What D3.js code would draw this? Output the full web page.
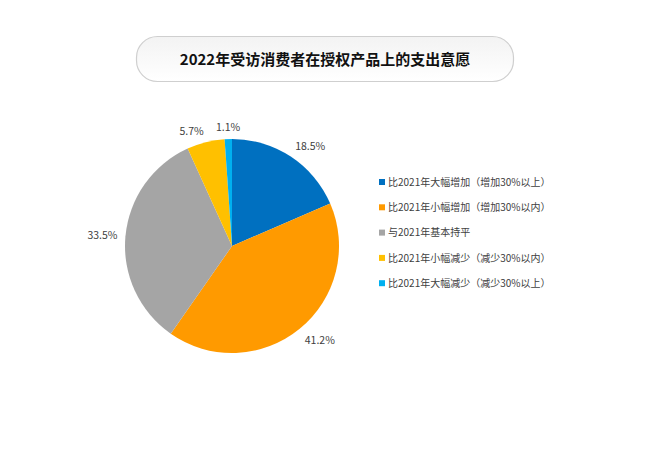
<!DOCTYPE html>
<html>
<head>
<meta charset="utf-8">
<script src="https://cdn.jsdelivr.net/npm/d3@7"></script>
<style>
    body { margin: 0; background: #fff; }
    svg { display: block; font-family: "Noto Sans CJK SC", "Noto Sans", sans-serif; }
</style>
</head>
<body>
<svg id="chart" width="650" height="450"></svg>
<script>
// chart data
const title = '2022年受访消费者在授权产品上的支出意愿';
const categories = [
    '比2021年大幅增加（增加30%以上）',
    '比2021年小幅增加（增加30%以内）',
    '与2021年基本持平',
    '比2021年小幅减少（减少30%以内）',
    '比2021年大幅减少（减少30%以上）'
];
const shares = [18.5, 41.2, 33.5, 5.7, 1.1];
const colors = ['#0070C0', '#FF9A00', '#A5A5A5', '#FFC000', '#00B0F0'];

const svg = d3.select('#chart');

// title box
let defs = svg.append('defs');
let grad = defs.append('linearGradient')
    .attr('id', 'title_bg')
    .attr('x1', 0).attr('y1', 0).attr('x2', 0).attr('y2', 1);
grad.append('stop').attr('offset', '0%').attr('stop-color', '#f3f3f3');
grad.append('stop').attr('offset', '100%').attr('stop-color', '#ffffff');

svg.append('rect')
    .attr('x', 136.5).attr('y', 36.5)
    .attr('width', 377).attr('height', 45)
    .attr('rx', 21).attr('ry', 21)
    .style('fill', 'url(#title_bg)')
    .style('stroke', '#cfcfcf')
    .style('stroke-width', 1.2);

svg.append('text')
    .attr('x', 325).attr('y', 60)
    .attr('dy', '0.36em')
    .attr('text-anchor', 'middle')
    .style('font-size', '15px')
    .style('font-weight', 'bold')
    .style('fill', '#111')
    .text(title);

// pie
const cx = 232, cy = 246, r = 107;
const g = svg.append('g').attr('transform', 'translate(' + cx + ',' + cy + ')');

const pie = d3.pie().sort(null).value(d => d);
const arcs = pie(shares);
const arc = d3.arc().innerRadius(0).outerRadius(r);

g.selectAll('path')
    .data(arcs)
    .enter().append('path')
        .attr('d', arc)
        .style('fill', (d, i) => colors[i]);

// outside labels, anchored by side
const lr = r + 8;
g.selectAll('text.lbl')
    .data(arcs)
    .enter().append('text')
        .attr('class', 'lbl')
        .each(function(d) {
            let a = (d.startAngle + d.endAngle) / 2;
            let s = Math.sin(a), c = Math.cos(a);
            let anchor = s > 0.1 ? 'start' : (s < -0.1 ? 'end' : 'middle');
            let dy = c > 0.5 ? '0em' : (c < -0.5 ? '0.85em' : '0.35em');
            d3.select(this)
                .attr('x', lr * s)
                .attr('y', -lr * c)
                .attr('dy', dy)
                .attr('text-anchor', anchor);
        })
        .style('font-size', '10.5px')
        .style('fill', '#404040')
        .text(d => d.value.toFixed(1) + '%');

// legend
const legend = svg.append('g').attr('transform', 'translate(379,182)');
const row = legend.selectAll('g')
    .data(categories)
    .enter().append('g')
        .attr('transform', (d, i) => 'translate(0,' + (i * 25.3) + ')');

row.append('rect')
    .attr('x', 0).attr('y', -3)
    .attr('width', 6).attr('height', 6)
    .style('fill', (d, i) => colors[i]);

row.append('text')
    .attr('x', 9).attr('y', 0)
    .attr('dy', '0.36em')
    .style('font-size', '10px')
    .style('fill', '#404040')
    .text(d => d);
</script>
</body>
</html>
